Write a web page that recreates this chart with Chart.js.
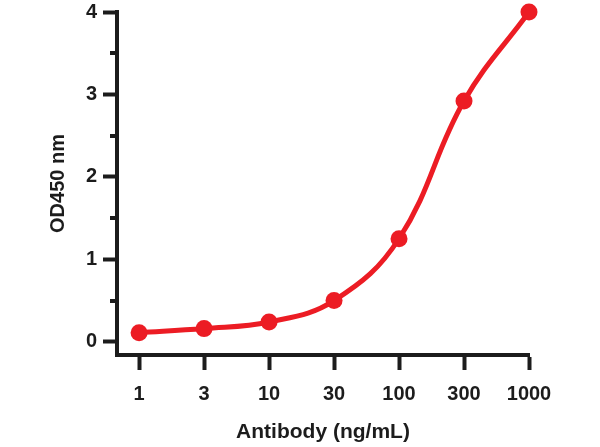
<!DOCTYPE html>
<html><head><meta charset="utf-8">
<script src="https://cdn.jsdelivr.net/npm/chart.js@4"></script>
<style>html,body{margin:0;padding:0;background:#fff}</style>
</head><body>
<canvas id="c" width="600" height="447"></canvas>
<script>
const concentrations = ['1', '3', '10', '30', '100', '300', '1000'];
const od450 = [0.11, 0.16, 0.24, 0.50, 1.25, 2.92, 4.00];
const yMajorTicks = [0, 1, 2, 3, 4];
const yMinorTicks = [0.5, 1.5, 2.5, 3.5];

const RED = '#EC1C24';
const INK = '#1c1c1c';
const FONT = '"Liberation Sans", Arial, sans-serif';

const minorTicks = {
  id: 'minorTicks',
  afterDraw(chart) {
    const y = chart.scales.y, ctx = chart.ctx, left = chart.chartArea.left;
    ctx.save();
    ctx.strokeStyle = INK; ctx.lineWidth = 4;
    yMinorTicks.forEach(v => {
      const py = Math.round(y.getPixelForValue(v));
      ctx.beginPath(); ctx.moveTo(left - 7, py); ctx.lineTo(left, py); ctx.stroke();
    });
    ctx.restore();
  }
};

new Chart(document.getElementById('c'), {
  type: 'line',
  data: {
    datasets: [{
      data: od450.map((v, i) => ({x: i, y: v})),
      borderColor: RED,
      backgroundColor: RED,
      borderWidth: 5,
      pointRadius: 8.5,
      pointHoverRadius: 8.5,
      pointBorderWidth: 0,
      pointBackgroundColor: RED,
      tension: 0.4,
      clip: false
    }]
  },
  options: {
    responsive: false,
    animation: false,
    devicePixelRatio: 1,
    layout: {padding: {top: 12, right: 71, left: 0, bottom: 0}},
    plugins: {legend: {display: false}, tooltip: {enabled: false}},
    scales: {
      x: {
        type: 'linear',
        min: -0.34,
        max: concentrations.length - 1,
        afterBuildTicks: s => { s.ticks = concentrations.map((_, i) => ({value: i})); },
        afterFit: s => { s.height = 92; },
        border: {display: true, color: INK, width: 4},
        grid: {drawOnChartArea: false, drawTicks: true, tickLength: 15, tickWidth: 4, tickColor: INK},
        ticks: {
          callback: v => concentrations[v],
          color: INK, padding: 12,
          font: {family: FONT, size: 20, weight: 'bold'},
          maxRotation: 0, autoSkip: false
        },
        title: {
          display: true, text: 'Antibody (ng/mL)', color: INK,
          font: {family: FONT, size: 21, weight: 'bold'},
          padding: {top: 0, bottom: 2}
        }
      },
      y: {
        type: 'linear',
        min: -0.16,
        max: 4,
        afterBuildTicks: s => { s.ticks = yMajorTicks.map(v => ({value: v})); },
        afterFit: s => { s.width = 117; },
        border: {display: true, color: INK, width: 4},
        grid: {drawOnChartArea: false, drawTicks: true, tickLength: 14, tickWidth: 4, tickColor: INK},
        ticks: {
          color: INK, padding: 6,
          font: {family: FONT, size: 20, weight: 'bold', lineHeight: 0.6},
          callback: v => String(v)
        },
        title: {
          display: true, text: 'OD450 nm', color: INK,
          font: {family: FONT, size: 20, weight: 'bold'},
          padding: {top: 46, bottom: 0}
        }
      }
    }
  },
  plugins: [minorTicks]
});
</script>
</body></html>
